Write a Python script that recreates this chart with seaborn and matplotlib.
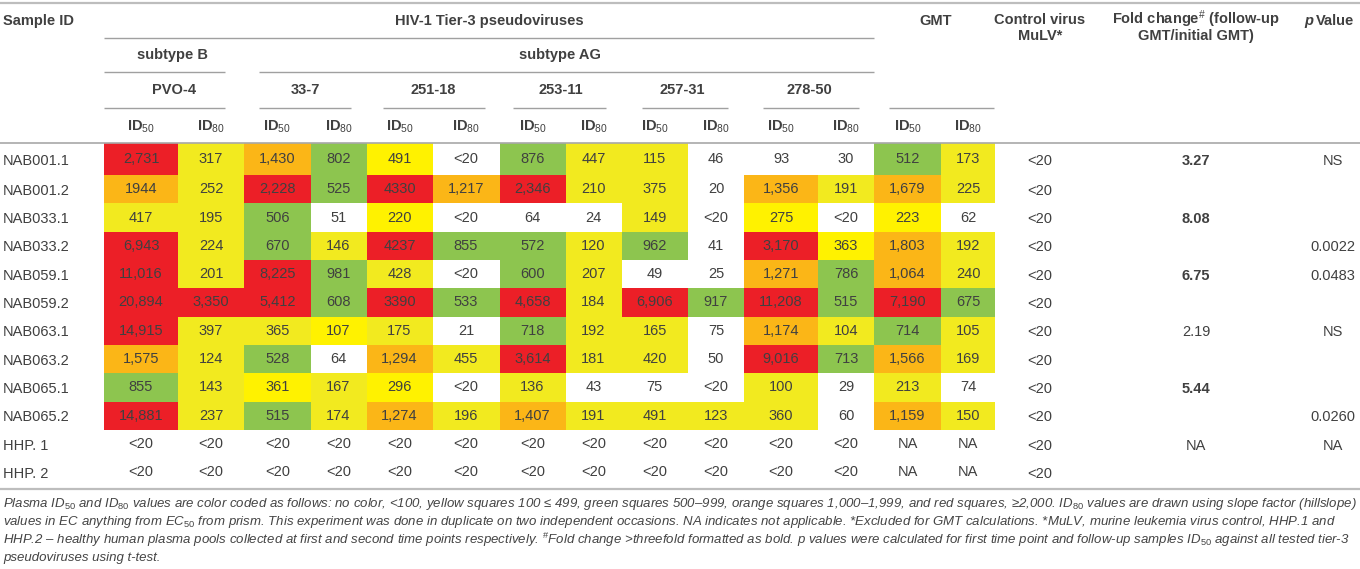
import numpy as np
import pandas as pd
import matplotlib
matplotlib.use("Agg")
import matplotlib.pyplot as plt
import seaborn as sns
from matplotlib.colors import ListedColormap

# ===== 1. Data =====
sample_ids = ["NAB001.1", "NAB001.2", "NAB033.1", "NAB033.2", "NAB059.1", "NAB059.2",
              "NAB063.1", "NAB063.2", "NAB065.1", "NAB065.2", "HHP. 1", "HHP. 2"]
viruses = ["PVO-4", "33-7", "251-18", "253-11", "257-31", "278-50"]

# ID50 / ID80 pairs: PVO-4, 33-7, 251-18, 253-11, 257-31, 278-50, GMT
nab001_1 = ["2,731", "317", "1,430", "802", "491", "<20", "876", "447", "115", "46", "93", "30", "512", "173"]
nab001_2 = ["1944", "252", "2,228", "525", "4330", "1,217", "2,346", "210", "375", "20", "1,356", "191", "1,679", "225"]
nab033_1 = ["417", "195", "506", "51", "220", "<20", "64", "24", "149", "<20", "275", "<20", "223", "62"]
nab033_2 = ["6,943", "224", "670", "146", "4237", "855", "572", "120", "962", "41", "3,170", "363", "1,803", "192"]
nab059_1 = ["11,016", "201", "8,225", "981", "428", "<20", "600", "207", "49", "25", "1,271", "786", "1,064", "240"]
nab059_2 = ["20,894", "3,350", "5,412", "608", "3390", "533", "4,658", "184", "6,906", "917", "11,208", "515", "7,190", "675"]
nab063_1 = ["14,915", "397", "365", "107", "175", "21", "718", "192", "165", "75", "1,174", "104", "714", "105"]
nab063_2 = ["1,575", "124", "528", "64", "1,294", "455", "3,614", "181", "420", "50", "9,016", "713", "1,566", "169"]
nab065_1 = ["855", "143", "361", "167", "296", "<20", "136", "43", "75", "<20", "100", "29", "213", "74"]
nab065_2 = ["14,881", "237", "515", "174", "1,274", "196", "1,407", "191", "491", "123", "360", "60", "1,159", "150"]
hhp_1 = ["<20", "<20", "<20", "<20", "<20", "<20", "<20", "<20", "<20", "<20", "<20", "<20", "NA", "NA"]
hhp_2 = ["<20", "<20", "<20", "<20", "<20", "<20", "<20", "<20", "<20", "<20", "<20", "<20", "NA", "NA"]

control_mulv = ["<20", "<20", "<20", "<20", "<20", "<20", "<20", "<20", "<20", "<20", "<20", "<20"]
fold_change = ["3.27", "", "8.08", "", "6.75", "", "2.19", "", "5.44", "", "NA", ""]
p_value = ["NS", "", "", "0.0022", "0.0483", "", "NS", "", "", "0.0260", "NA", ""]

# cells printed in a brighter yellow in the original
bright_yellow_cells = [("NAB001.1", 4), ("NAB033.1", 4), ("NAB063.1", 3), ("NAB065.1", 2),
                       ("NAB065.1", 4), ("NAB033.1", 10), ("NAB033.1", 12), ("NAB033.2", 11)]

# ===== 2. Layout (pixels) =====
W, H = 1360, 569
col_edges = [104, 178, 244, 310.5, 366.5, 432.5, 499.5, 565.5, 621.5, 688, 744, 818, 874, 941, 995]
row_edges = [143, 175, 203.3, 231.7, 260, 288.3, 316.7, 345, 373.3, 401.7, 430, 458.3, 486.7]
TXT = "#404040"
FS = 10.5

plt.rcParams["font.family"] = ["Liberation Sans", "DejaVu Sans"]
plt.rcParams["mathtext.fontset"] = "custom"
plt.rcParams["mathtext.rm"] = "Liberation Sans"
plt.rcParams["mathtext.it"] = "Liberation Sans:italic"
plt.rcParams["mathtext.bf"] = "Liberation Sans:bold"

rows = [nab001_1, nab001_2, nab033_1, nab033_2, nab059_1, nab059_2,
        nab063_1, nab063_2, nab065_1, nab065_2, hhp_1, hhp_2]
labels = pd.DataFrame(rows, index=sample_ids)


def level(s):
    s = s.replace(",", "")
    if not s.replace(".", "").isdigit():
        return 0
    v = float(s)
    if v < 100:
        return 0
    if v < 500:
        return 1
    if v < 1000:
        return 3
    if v < 2000:
        return 4
    return 5


codes = labels.apply(lambda c: c.map(level))
for sid, j in bright_yellow_cells:
    codes.loc[sid, j] = 2

palette = ["#ffffff", "#f2ea1f", "#fff200", "#8dc54f", "#fbb617", "#ec1f27"]

fig = plt.figure(figsize=(W / 100, H / 100), dpi=100)

# ===== 3. Coloured cells =====
ax_h = fig.add_axes([col_edges[0] / W, 1 - row_edges[-1] / H,
                     (col_edges[-1] - col_edges[0]) / W, (row_edges[-1] - row_edges[0]) / H])
sns.heatmap(codes, cmap=ListedColormap(palette), vmin=-0.5, vmax=5.5, cbar=False,
            annot=labels.values, fmt="", annot_kws={"color": TXT, "fontsize": FS},
            xticklabels=False, yticklabels=False, linewidths=0, ax=ax_h)
ci = np.arange(len(col_edges))
ri = np.arange(len(row_edges))
ax_h.set_xscale("function", functions=(lambda v: np.interp(v, ci, col_edges),
                                       lambda p: np.interp(p, col_edges, ci)))
ax_h.set_yscale("function", functions=(lambda v: np.interp(v, ri, row_edges),
                                       lambda p: np.interp(p, row_edges, ri)))
ax_h.set_xlim(0, len(col_edges) - 1)
ax_h.set_ylim(len(row_edges) - 1, 0)
ax_h.axis("off")

# ===== 4. Text, rules and headers =====
ax = fig.add_axes([0, 0, 1, 1])
ax.set_xlim(0, W)
ax.set_ylim(H, 0)
ax.axis("off")


def hline(x0, x1, y, lw=1.0, color="#a0a0a0"):
    ax.plot([x0, x1], [y, y], color=color, lw=lw, solid_capstyle="butt")


def put(x, y, s, ha="center", **kw):
    ax.text(x, y, s, ha=ha, va="center", fontsize=FS, color=TXT, **kw)


hline(0, W, 2.5, lw=1.6, color="#bdbdbd")
hline(0, W, 143, lw=1.2, color="#a8a8a8")
hline(0, W, 489, lw=1.6, color="#bdbdbd")
hline(104, 874, 37.5)
hline(104, 225, 72)
hline(259, 874, 72)
for x0, x1 in [(104, 225), (259, 351), (383, 485), (513, 606), (642, 728), (763, 859), (889, 994)]:
    hline(x0, x1, 108)

put(3, 20.5, "Sample ID", ha="left", weight="bold")
put(489, 20.5, "HIV-1 Tier-3 pseudoviruses", weight="bold")
put(172, 55, "subtype B", weight="bold")
put(560, 55, "subtype AG", weight="bold")
for k, name in enumerate(viruses):
    put((col_edges[2 * k] + col_edges[2 * k + 2]) / 2, 90, name, weight="bold")
put(936, 20.5, "GMT", weight="bold")
put(1040, 19.5, "Control virus", weight="bold")
put(1040, 36, "MuLV*", weight="bold")
put(1196, 19.5, r"Fold change$^{\#}$ (follow-up", weight="bold")
put(1196, 36, "GMT/initial GMT)", weight="bold")
put(1304, 20.5, "p", ha="left", weight="bold", style="italic")
put(1316, 20.5, "Value", ha="left", weight="bold")
for j in range(len(col_edges) - 1):
    sub = "ID$_{50}$" if j % 2 == 0 else "ID$_{80}$"
    put((col_edges[j] + col_edges[j + 1]) / 2, 126.5, sub, weight="bold")

for i, sid in enumerate(sample_ids):
    yc = (row_edges[i] + row_edges[i + 1]) / 2 + 1.5
    put(3, yc, sid, ha="left")
    put(1040, yc, control_mulv[i])
    fc = fold_change[i]
    bold = fc not in ("", "NA") and float(fc) > 3
    put(1196, yc, fc, weight="bold" if bold else "normal")
    put(1333, yc, p_value[i])

notes = [
    r"Plasma ID$_{\mathit{50}}$ and ID$_{\mathit{80}}$ values are color coded as follows: no color, <100, yellow squares 100 ≤ 499, "
    r"green squares 500–999, orange squares 1,000–1,999, and red squares, ≥2,000. ID$_{\mathit{80}}$ values are drawn using slope factor (hillslope)",
    r"values in EC anything from EC$_{\mathit{50}}$ from prism. This experiment was done in duplicate on two independent occasions. "
    r"NA indicates not applicable. *Excluded for GMT calculations. *MuLV, murine leukemia virus control, HHP.1 and",
    r"HHP.2 – healthy human plasma pools collected at first and second time points respectively. $^{\#}$Fold change >threefold "
    r"formatted as bold. p values were calculated for first time point and follow-up samples ID$_{\mathit{50}}$ against all tested tier-3",
    "pseudoviruses using t-test.",
]
for k, line in enumerate(notes):
    ax.text(3, 504 + 18 * k, line, ha="left", va="center", fontsize=9.5, style="italic", color="#444444")

fig.savefig("out.png", dpi=100)
